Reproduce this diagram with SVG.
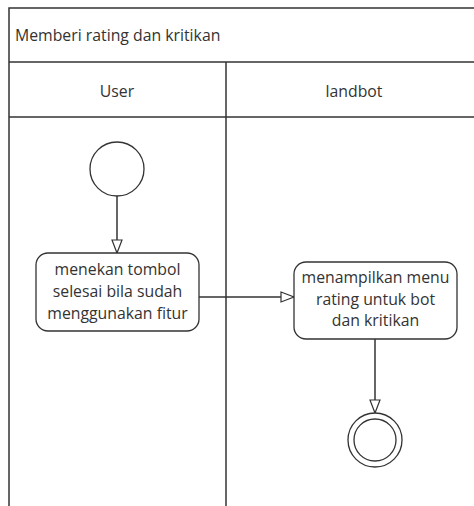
<svg xmlns="http://www.w3.org/2000/svg" width="474" height="506" viewBox="0 0 474 506">
<defs>
<style>
.ln{stroke:#333;stroke-width:1.5;fill:none}
.nd{stroke:#333;stroke-width:1.3;fill:#fff}
.t{font-family:"Open Sans","Noto Sans",sans-serif;font-size:15.8px;fill:#333}
.c{text-anchor:middle}
</style>
<marker id="ar" markerWidth="16" markerHeight="12" refX="14" refY="6" orient="auto" markerUnits="userSpaceOnUse">
<path d="M1,1 L14,6 L1,11 Z" fill="#fff" stroke="#333" stroke-width="1.2"/>
</marker>
</defs>
<rect width="474" height="506" fill="#fff"/>
<g id="pool">
<path class="ln" d="M9,506 V8 H474"/>
<line class="ln" x1="9" y1="62" x2="474" y2="62"/>
<line class="ln" x1="9" y1="117" x2="474" y2="117"/>
<line class="ln" x1="226" y1="62" x2="226" y2="506"/>
<text class="t" x="15" y="41">Memberi rating dan kritikan</text>
<text class="t c" x="117" y="97">User</text>
<text class="t c" x="354" y="97">landbot</text>
</g>
<g id="connectors">
<line class="ln" x1="117" y1="196" x2="117" y2="253" marker-end="url(#ar)"/>
<line class="ln" x1="199" y1="297" x2="294" y2="297" marker-end="url(#ar)"/>
<line class="ln" x1="375" y1="339" x2="375" y2="413" marker-end="url(#ar)"/>
</g>
<g id="start">
<circle class="nd" cx="117" cy="169" r="27"/>
</g>
<g id="act1">
<rect class="nd" x="36" y="253" width="163" height="78" rx="12"/>
<text class="t c" x="117.5" y="275">menekan tombol</text>
<text class="t c" x="117.5" y="297">selesai bila sudah</text>
<text class="t c" x="117.5" y="319">menggunakan fitur</text>
</g>
<g id="act2">
<rect class="nd" x="294" y="262" width="163" height="77" rx="12"/>
<text class="t c" x="375.5" y="283">menampilkan menu</text>
<text class="t c" x="375.5" y="305">rating untuk bot</text>
<text class="t c" x="375.5" y="326">dan kritikan</text>
</g>
<g id="end">
<circle class="nd" cx="375" cy="440" r="27"/>
<circle class="nd" cx="375" cy="440" r="21"/>
</g>
</svg>
